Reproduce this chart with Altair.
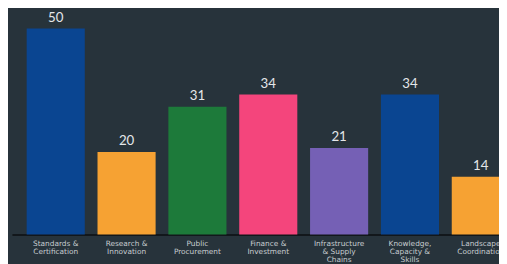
import altair as alt
import pandas as pd

categories = [
    "Standards & Certification",
    "Research & Innovation",
    "Public Procurement",
    "Finance & Investment",
    "Infrastructure & Supply Chains",
    "Knowledge, Capacity & Skills",
    "Landscape Coordination",
]
label_lines = [
    "Standards &|Certification",
    "Research &|Innovation",
    "Public|Procurement",
    "Finance &|Investment",
    "Infrastructure|& Supply|Chains",
    "Knowledge,|Capacity &|Skills",
    "Landscape|Coordination",
]
values = [50, 20, 31, 34, 21, 34, 14]
colors = ["#0a4591", "#f6a233", "#1d7a3a", "#f4457c", "#7560b5", "#0a4591", "#f6a233"]

df = pd.DataFrame({"cat": categories, "label": label_lines, "value": values, "color": colors})

label_map = "{" + ",".join(f"'{c}':'{l}'" for c, l in zip(categories, label_lines)) + "}"

x = alt.X(
    "cat:N",
    sort=categories,
    scale=alt.Scale(range=[0, 521], paddingInner=0.18, paddingOuter=0.208),
    axis=alt.Axis(
        title=None,
        labelAngle=0,
        ticks=False,
        domainColor="#0d0f12",
        domainWidth=1.5,
        labelColor="#c8cdd1",
        labelFont="DejaVu Sans",
        labelFontSize=7.5,
        labelLineHeight=8.5,
        labelPadding=5,
        labelLimit=0,
        labelExpr=f"split({label_map}[datum.label], '|')",
    ),
)
y = alt.Y("value:Q", scale=alt.Scale(domain=[0, 54.5]), axis=None)

bars = alt.Chart(df).mark_bar().encode(x=x, y=y, color=alt.Color("color:N", scale=None))
text = alt.Chart(df).mark_text(
    dy=-11, color="#e4e7ea", font="Lato", fontSize=13.5
).encode(x=x, y=y, text="value:Q")

chart = (
    alt.layer(bars, text)
    .properties(
        width=495,
        height=228,
        background="#27333b",
        padding={"left": 4, "top": 0, "right": 0, "bottom": 28},
        autosize=alt.AutoSizeParams(type="none"),
    )
    .configure_view(stroke=None)
)

chart.save("out.html", embed_options={"renderer": "svg", "actions": False})
